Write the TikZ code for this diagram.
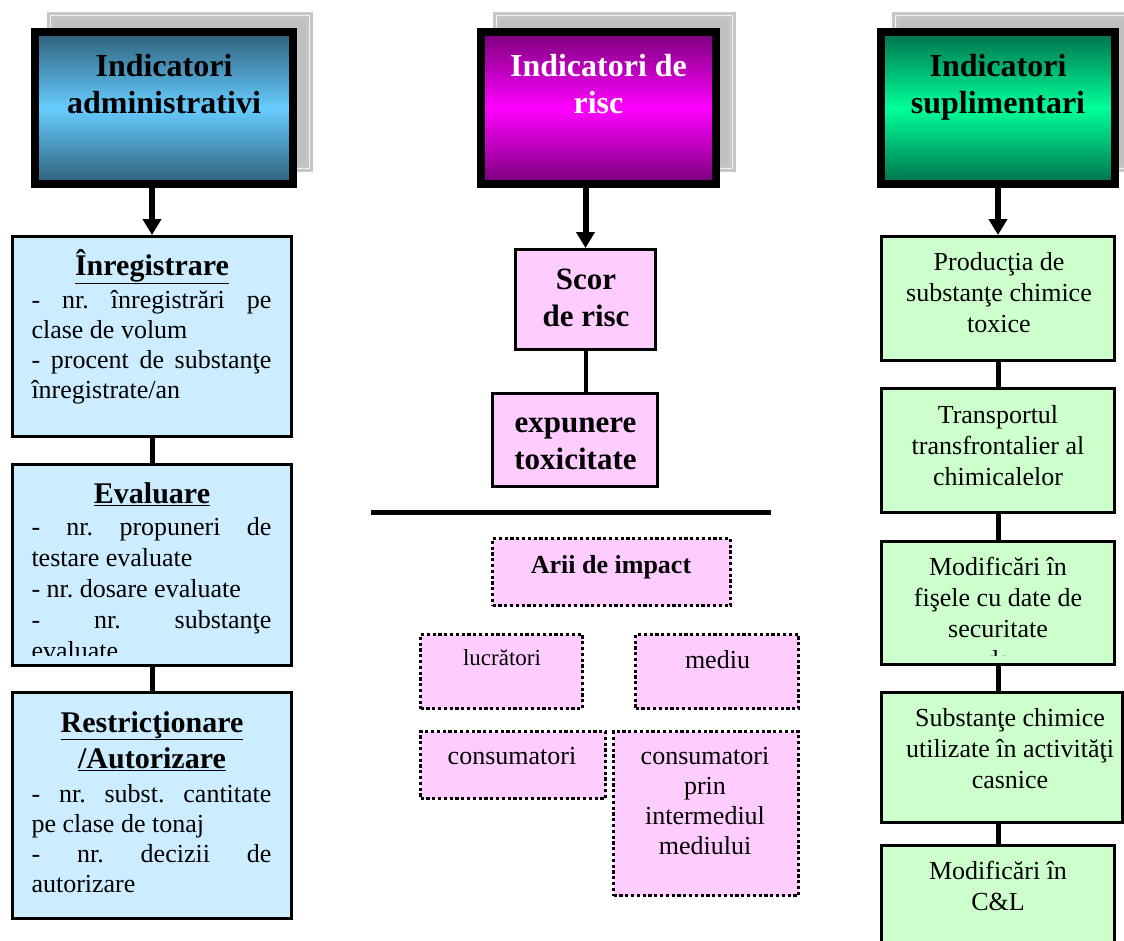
\documentclass[tikz,border=0pt]{standalone}
\usepackage{fontspec}
\setmainfont{Liberation Serif}
\usetikzlibrary{arrows.meta,positioning,calc}

\definecolor{admdark}{HTML}{2E5F7A}
\definecolor{admlight}{HTML}{66CCFF}
\definecolor{riscdark}{HTML}{7A007A}
\definecolor{risclight}{HTML}{FF00FF}
\definecolor{supdark}{HTML}{00704C}
\definecolor{suplight}{HTML}{00FF99}
\definecolor{boxblue}{HTML}{CCECFF}
\definecolor{boxpink}{HTML}{FFCCFF}
\definecolor{boxgreen}{HTML}{CCFFCC}
\definecolor{shadegray}{HTML}{C0C0C0}

\newcommand{\jline}[1]{{\frenchspacing\makebox[240pt][s]{#1}}}

\begin{document}
\begin{tikzpicture}[x=1pt, y=-1pt,
    header/.style={draw=black, line width=8pt, minimum height=152pt, inner sep=0pt},
    hshadow/.style={fill=shadegray, draw=gray!45, double=white!88!gray, double distance=1pt, line width=3pt, minimum height=153pt, inner sep=0pt},
    htext/.style={font=\fontsize{32}{37}\selectfont\bfseries, align=center, inner sep=0pt, anchor=base},
    bluebox/.style={draw=black, line width=3pt, fill=boxblue, minimum width=279pt, inner sep=0pt},
    pinkbox/.style={draw=black, line width=3pt, fill=boxpink, inner sep=0pt},
    dotbox/.style={draw=black, line width=3.2pt, dash pattern=on 3.2pt off 2.6pt, fill=boxpink, inner sep=0pt},
    greenbox/.style={draw=black, line width=3pt, fill=boxgreen, minimum width=233pt, inner sep=0pt},
    ttext/.style={font=\fontsize{30}{36}\selectfont\bfseries, align=center, inner sep=0pt, anchor=base},
    btext/.style={font=\fontsize{26}{30}\selectfont\frenchspacing, align=justify, text width=240pt, inner sep=0pt, anchor=base},
    mtext/.style={font=\fontsize{31}{37}\selectfont\bfseries, align=center, inner sep=0pt, anchor=base},
    itext/.style={font=\fontsize{26}{30}\selectfont, align=center, inner sep=0pt, anchor=base},
    gtext/.style={font=\fontsize{26}{31}\selectfont, align=center, inner sep=0pt, anchor=base},
    arrow/.style={-{Triangle[length=16pt, width=18pt]}, line width=6pt},
    link/.style={line width=5pt}
]
\useasboundingbox (0,0) rectangle (1124,940);
\clip (0,0) rectangle (1124,940);

% headers with shadow (text nodes sit on their last baseline)
\node[hshadow, minimum width=259pt] (admS) at (180,92) {};
\node[header, minimum width=258pt, top color=admdark, bottom color=admdark, middle color=admlight] (adm) at (164,108) {};
\node[htext] at (164,113) {Indicatori\\administrativi};

\node[hshadow, minimum width=236pt] (riscS) at (614.5,92) {};
\node[header, minimum width=235pt, top color=riscdark, bottom color=riscdark, middle color=risclight] (risc) at (598.5,108) {};
\node[htext, text=white] at (598.5,113) {Indicatori de\\risc};

\node[hshadow, minimum width=235pt] (suplS) at (1013,92) {};
\node[header, minimum width=234pt, top color=supdark, bottom color=supdark, middle color=suplight] (supl) at (998,108) {};
\node[htext] at (998,113) {Indicatori\\suplimentari};

% administrative column
\node[bluebox, minimum height=200pt] (inreg) at (152,336.5) {};
\node[ttext] at (152,275) {\underline{Înregistrare}};
\node[btext] at (151.5,308) {\jline{- nr. înregistrări pe}\\clase de volum\\\jline{- procent de substanţe}\\înregistrate/an};

\node[bluebox, minimum height=201pt] (eval) at (152,565) {};
\node[ttext] at (152,503) {\underline{Evaluare}};
\begin{scope}
  \clip (13,465) rectangle (291,655);
  \node[btext, font=\fontsize{26}{31}\selectfont\frenchspacing] at (151.5,535) {\jline{- nr. propuneri de}\\testare evaluate\\- nr. dosare evaluate\\\jline{- nr. substanţe}\\evaluate};
\end{scope}

\node[bluebox, minimum height=226pt] (restr) at (152,805.5) {};
\node[ttext] at (152,768) {\underline{Restricţionare}\\\underline{/Autorizare}};
\node[btext] at (151.5,802) {\jline{- nr. subst. cantitate}\\pe clase de tonaj\\\jline{- nr. decizii de}\\autorizare};

% risk column
\node[pinkbox, minimum width=140pt, minimum height=100pt] (scor) at (585.5,299.5) {};
\node[mtext] at (586,326) {Scor\\de risc};
\node[pinkbox, minimum width=165pt, minimum height=93pt] (expun) at (575,440) {};
\node[mtext] at (575.5,469) {expunere\\toxicitate};

\coordinate (sepL) at (371,512);
\coordinate (sepR) at (771,512);

\node[dotbox, minimum width=238pt, minimum height=67pt] (arii) at (611.5,572) {};
\node[itext, font=\fontsize{26}{30}\selectfont\bfseries] at (611,573) {Arii de impact};
\node[dotbox, minimum width=162pt, minimum height=74pt] (lucr) at (501.5,671.5) {};
\node[itext, font=\fontsize{23}{28}\selectfont] at (502,665) {lucrători};
\node[dotbox, minimum width=163pt, minimum height=74pt] (mediu) at (717,671.5) {};
\node[itext] at (717.5,668) {mediu};
\node[dotbox, minimum width=185pt, minimum height=67pt] (cons) at (513,765) {};
\node[itext] at (512,764) {consumatori};
\node[dotbox, minimum width=185pt, minimum height=164pt] (consm) at (706,813.5) {};
\node[itext] at (705,854) {consumatori\\prin\\intermediul\\mediului};

% supplementary column
\node[greenbox, minimum height=124pt] (prod) at (998,298.5) {};
\node[gtext] at (999,332) {Producţia de\\substanţe chimice\\toxice};
\node[greenbox, minimum height=124pt] (transp) at (998,450.5) {};
\node[gtext] at (998,485) {Transportul\\transfrontalier al\\chimicalelor};
\node[greenbox, minimum height=123pt] (modf) at (998,603) {};
\begin{scope}
  \clip (881,541) rectangle (1115,655);
  \node[gtext] at (998,668) {Modificări în\\fişele cu date de\\securitate\\de};
\end{scope}
\node[greenbox, minimum width=241pt, minimum height=130pt] (subst) at (1002,757.5) {};
\node[gtext] at (1010,788) {Substanţe chimice\\utilizate în activităţi\\casnice};
\node[greenbox, minimum height=113pt] (modcl) at (998,902) {};
\node[gtext] at (998,910) {Modificări în\\C\&L};

% connectors
\draw[arrow] (inreg.north |- adm.south) -- (inreg.north);
\draw[link] (inreg.south) -- (eval.north);
\draw[link] (eval.south) -- (restr.north);

\draw[arrow] ([yshift=6pt]scor.north |- risc.south) -- (scor.north);
\draw[line width=4pt] (scor.south) -- (scor.south |- expun.north);
\draw[link] (sepL) -- (sepR);

\draw[arrow] (supl.south) -- (prod.north);
\draw[link] (prod.south) -- (transp.north);
\draw[link] (transp.south) -- (modf.north);
\draw[link] (modf.south) -- (modf.south |- subst.north);
\draw[link] (modf.south |- subst.south) -- (modcl.north);

\end{tikzpicture}
\end{document}
